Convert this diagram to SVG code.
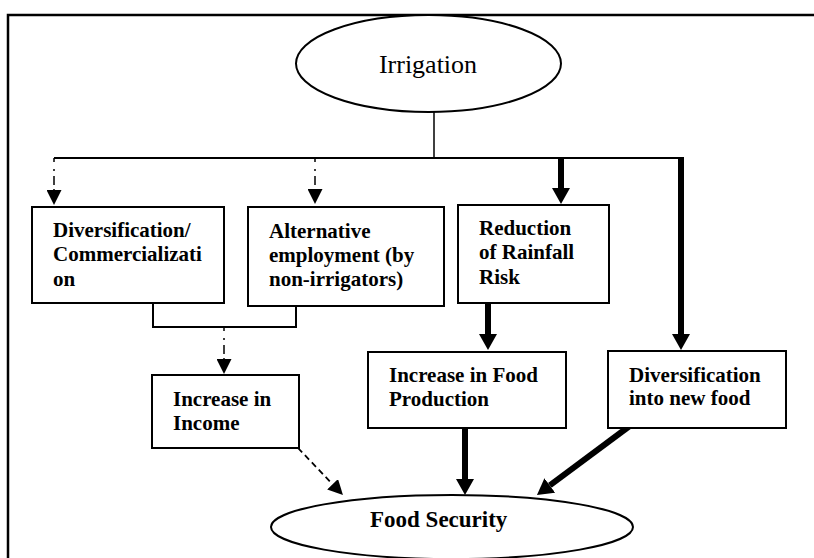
<svg xmlns="http://www.w3.org/2000/svg" width="814" height="558" viewBox="0 0 814 558">
<style>
.box{fill:#fff;stroke:#000;stroke-width:2}
.ell{fill:#fff;stroke:#000;stroke-width:2}
.lbl{font-family:"Liberation Serif","Times New Roman",serif;font-weight:bold;font-size:21px;fill:#000}
.thin{fill:none;stroke:#000;stroke-width:1.5}
.dd{fill:none;stroke:#000;stroke-width:1.5;stroke-dasharray:4 7 2 5 9 4}
.dash{fill:none;stroke:#000;stroke-width:1.8;stroke-dasharray:6 4}
.thick{fill:none;stroke:#000;stroke-width:6}
</style>
<defs>
<marker id="ah" viewBox="0 0 15 15" markerUnits="userSpaceOnUse" markerWidth="15" markerHeight="15" refX="0" refY="7.5" orient="auto"><path d="M0,0 L15,7.5 L0,15 z" fill="#000"/></marker>
<marker id="ahk" viewBox="0 0 16 18" markerUnits="userSpaceOnUse" markerWidth="16" markerHeight="18" refX="0" refY="9" orient="auto"><path d="M0,0 L16,9 L0,18 z" fill="#000"/></marker>
</defs>
<rect width="814" height="558" fill="#fff"/>
<path d="M8,560 V15 H816" fill="none" stroke="#000" stroke-width="2.5"/>
<g id="connectors">
<path class="thin" d="M434,112 V158"/>
<path d="M54,158 H681" fill="none" stroke="#000" stroke-width="2"/>
<path class="dd" d="M54,158 V190" marker-end="url(#ah)"/>
<path class="dd" d="M315,158 V189" marker-end="url(#ah)"/>
<path class="thick" d="M561,158 V188" marker-end="url(#ahk)"/>
<path class="thick" d="M681,157 V334" marker-end="url(#ahk)"/>
<path d="M153,303 V327 H296 V306" fill="none" stroke="#000" stroke-width="2"/>
<path class="dd" d="M224,327 V359" marker-end="url(#ah)"/>
<path class="thick" d="M488,303 V334" marker-end="url(#ahk)"/>
<path class="thick" d="M465,428 V479" marker-end="url(#ahk)"/>
<path class="thick" d="M631,425 L549.8,485.4" marker-end="url(#ahk)"/>
<path class="dash" d="M298,448 L332.6,484.2" marker-end="url(#ah)"/>
</g>
<g id="irrigation">
<ellipse class="ell" cx="428.5" cy="63.5" rx="132.5" ry="48.5"/>
<text x="428" y="73" text-anchor="middle" font-family="Liberation Serif, Times New Roman, serif" font-size="26">Irrigation</text>
</g>
<g id="diversification-commercialization">
<rect class="box" x="32" y="207" width="192" height="96"/>
<text class="lbl" x="53" y="237">Diversification/</text>
<text class="lbl" x="53" y="261">Commercializati</text>
<text class="lbl" x="53" y="286">on</text>
</g>
<g id="alternative-employment">
<rect class="box" x="248" y="207" width="196" height="99"/>
<text class="lbl" x="269" y="238">Alternative</text>
<text class="lbl" x="269" y="262">employment (by</text>
<text class="lbl" x="269" y="286">non-irrigators)</text>
</g>
<g id="reduction-rainfall-risk">
<rect class="box" x="458" y="205" width="151" height="98"/>
<text class="lbl" x="479" y="235">Reduction</text>
<text class="lbl" x="479" y="259">of Rainfall</text>
<text class="lbl" x="479" y="284">Risk</text>
</g>
<g id="increase-income">
<rect class="box" x="152" y="375" width="147" height="73"/>
<text class="lbl" x="173" y="406">Increase in</text>
<text class="lbl" x="173" y="430">Income</text>
</g>
<g id="increase-food-production">
<rect class="box" x="368" y="352" width="198" height="76"/>
<text class="lbl" x="389" y="382">Increase in Food</text>
<text class="lbl" x="389" y="406">Production</text>
</g>
<g id="diversification-new-food">
<rect class="box" x="608" y="351" width="178" height="77"/>
<text class="lbl" x="629" y="382">Diversification</text>
<text class="lbl" x="629" y="405">into new food</text>
</g>
<g id="food-security">
<ellipse class="ell" cx="452" cy="527" rx="181" ry="32"/>
<text class="lbl" x="370" y="527" font-size="23" style="font-size:23px">Food Security</text>
</g>
</svg>
